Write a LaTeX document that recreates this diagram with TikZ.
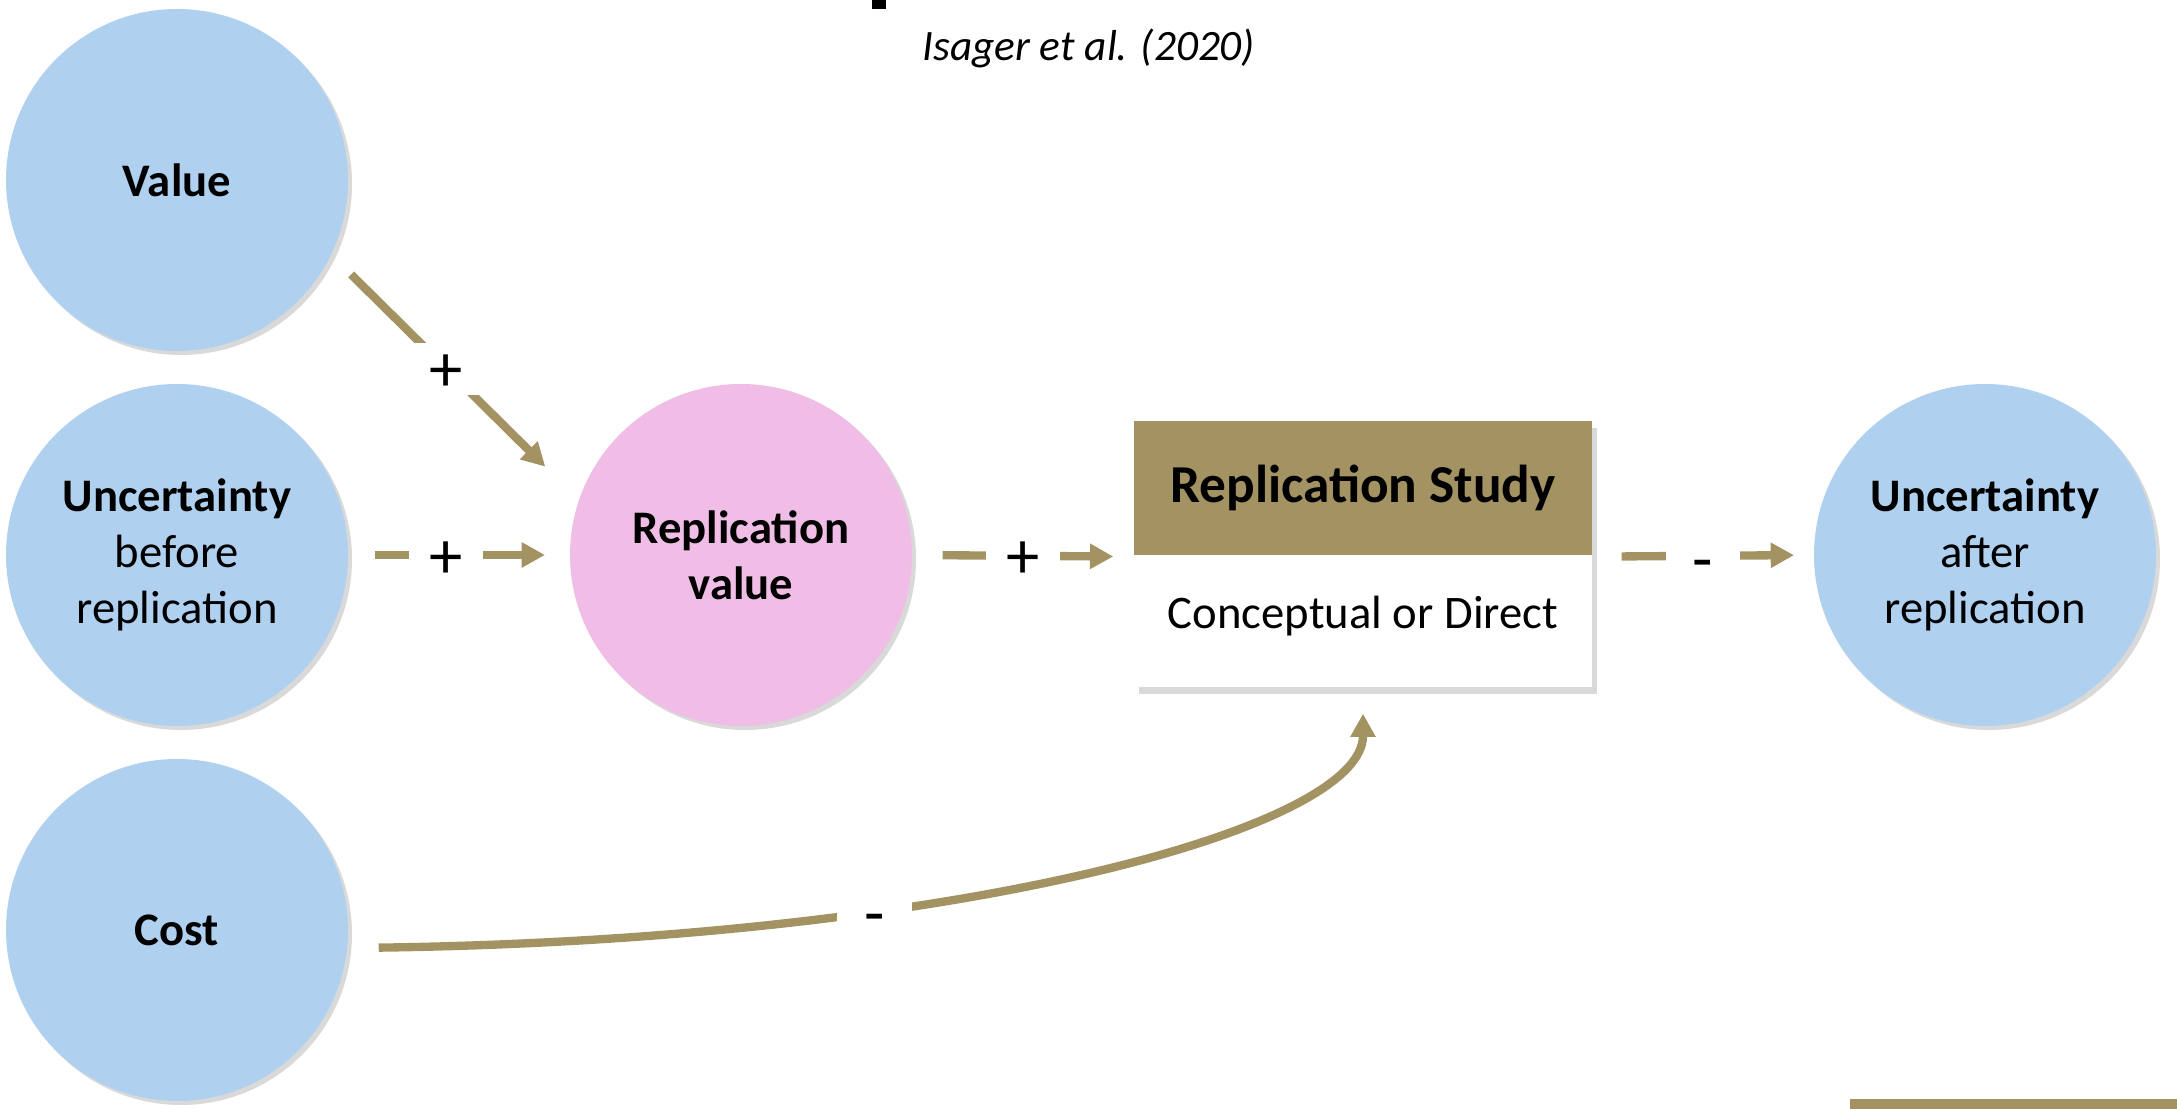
\documentclass[tikz,border=0pt]{standalone}
\usepackage{fontspec}
\setmainfont{Carlito}
\usetikzlibrary{arrows.meta,shadows}
\begin{document}
\begin{tikzpicture}[>={Triangle[length=7bp,width=7.2bp]},line join=bevel,
  bubble/.style={circle,minimum size=102.6bp,inner sep=0pt,align=center,
    font=\fontsize{14bp}{16.7bp}\selectfont,
    drop shadow={shadow xshift=1.2bp,shadow yshift=-1.2bp,opacity=0.3}},
  panel/.style={rectangle,minimum width=137.4bp,inner sep=0pt,
    drop shadow={shadow xshift=1.5bp,shadow yshift=-2.2bp,opacity=0.3}},
  sign/.style={fill=white,inner sep=0pt,minimum width=22.4bp,minimum height=15.7bp,
    text height=0.65em,text depth=0.1em,font=\fontsize{20bp}{22bp}\selectfont},
  link/.style={draw=linkcol,line width=2.5bp,->}]
  \pgfsetlinewidth{1bp}
  \definecolor{linkcol}{rgb}{0.643,0.576,0.384}
  \definecolor{bubblecol}{rgb}{0.686,0.820,0.937}
  \definecolor{valuecol}{rgb}{0.941,0.741,0.902}
  \useasboundingbox (0bp,0bp) rectangle (653.1bp,332.7bp);
%%
  % Node: source
  \node (source) at (326.6bp,318.3bp) {\fontsize{13bp}{15bp}\selectfont\itshape Isager et al. (2020)};
  \fill (261.6bp,330.0bp) rectangle (265.8bp,332.7bp);
  \fill[linkcol] (555.0bp,0.0bp) rectangle (653.1bp,3.0bp);
  % Node: value
  \node[bubble,fill=bubblecol] (value) at (53.1bp,278.7bp) {\textbf{Value}};
  % Node: uncertainty_before
  \node[bubble,fill=bubblecol] (uncertainty_before) at (53.1bp,166.2bp) {\textbf{Uncertainty}\\before\\replication};
  % Node: cost
  \node[bubble,fill=bubblecol] (cost) at (53.1bp,53.7bp) {\textbf{Cost}};
  % Node: replication_value
  \node[bubble,fill=valuecol] (replication_value) at (222.3bp,166.2bp) {\textbf{Replication}\\\textbf{value}};
  % Node: replication_study
  \node[panel,fill=linkcol,minimum height=40.2bp,font=\fontsize{16bp}{19bp}\selectfont\bfseries] (replication_study) at (408.9bp,186.3bp) {Replication Study};
  \node[panel,fill=white,minimum height=39.6bp,text height=10bp,text depth=5.5bp,font=\fontsize{14bp}{16.7bp}\selectfont] (study_kind) at (408.9bp,146.4bp) {Conceptual or Direct};
  % Node: uncertainty_after
  \node[bubble,fill=bubblecol] (uncertainty_after) at (595.5bp,166.2bp) {\textbf{Uncertainty}\\after\\replication};
  % Edge: value -> replication_value
  \draw[link,shorten <=8bp,shorten >=13.7bp] (value.-26.5) -- node[sign,pos=0.465] {\raisebox{-4.2bp}{+}} (replication_value.161.6);
  % Edge: uncertainty_before -> replication_value
  \draw[link,shorten <=7.5bp,shorten >=7bp] (uncertainty_before) -- node[sign,pos=0.44] {\raisebox{-4.2bp}{+}} (replication_value);
  % Edge: replication_value -> replication_study
  \draw[link,shorten <=8.7bp,shorten >=5.7bp] (replication_value.east) -- node[sign] {\raisebox{-4.2bp}{+}} (replication_study.south west);
  % Edge: replication_study -> uncertainty_after
  \draw[link,shorten <=8.4bp,shorten >=5.5bp] (replication_study.south east) -- node[sign] {\raisebox{-5bp}{-}} (uncertainty_after.west);
  % Edge: cost -> replication_study
  \draw[link,shorten <=9bp,shorten >=7.5bp] (cost.-6) .. controls (285.0bp,50.7bp) and (408.9bp,83.7bp) .. node[sign,pos=0.33] {\raisebox{-5bp}{-}} (study_kind.south);
%
\end{tikzpicture}
\end{document}
